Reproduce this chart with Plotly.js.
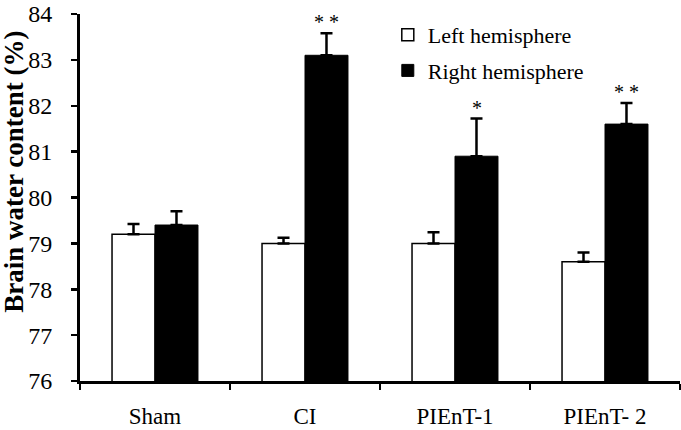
<!DOCTYPE html>
<html>
<head>
<meta charset="utf-8">
<script src="https://cdn.plot.ly/plotly-3.0.1.min.js"></script>
<style>
  html, body { margin: 0; padding: 0; background: #fff; }
  #chart { width: 681px; height: 430px; }
</style>
</head>
<body>
<div id="chart"></div>
<script>
// Brain water content, left vs right hemisphere, per group

const groups = ['Sham', 'CI', 'PIEnT-1', 'PIEnT- 2'];

const leftMean = [79.2, 79.0, 79.0, 78.6];
const leftErr = [0.22, 0.12, 0.24, 0.2];

const rightMean = [79.4, 83.1, 80.9, 81.6];
const rightErr = [0.3, 0.48, 0.82, 0.46];

// significance marks over the right hemisphere bars
const rightMarks = ['', '* *', '*', '* *'];

const serif = 'Liberation Serif, Times New Roman, serif';

const data = [
    {
        name: 'Left hemisphere',
        legendgroup: 'left',
        type: 'bar',
        x: groups,
        y: leftMean,
        marker: { color: '#ffffff', line: { color: '#000000', width: 1.5 } },
        error_y: {
            type: 'data',
            symmetric: false,
            array: leftErr,
            arrayminus: leftErr.map(() => 0),
            color: '#000000',
            thickness: 2.5,
            width: 6
        },
        hoverinfo: 'x+y'
    },
    {
        name: 'Right hemisphere',
        legendgroup: 'right',
        type: 'bar',
        x: groups,
        y: rightMean,
        marker: { color: '#000000', line: { color: '#000000', width: 1 } },
        error_y: {
            type: 'data',
            symmetric: false,
            array: rightErr,
            arrayminus: rightErr.map(() => 0),
            color: '#000000',
            thickness: 2.5,
            width: 6
        },
        hoverinfo: 'x+y'
    }
];

const annotations = rightMarks
    .map((mark, i) => ({
        x: groups[i],
        y: rightMean[i] + rightErr[i],
        xref: 'x',
        yref: 'y',
        text: mark,
        showarrow: false,
        xshift: 21.5,
        xanchor: 'center',
        yanchor: 'bottom',
        yshift: -2,
        font: { family: serif, size: 20, color: '#000' }
    }))
    .filter((a) => a.text !== '');

annotations.push({
    text: '<b>Brain water content (%)</b>',
    xref: 'paper',
    yref: 'paper',
    x: 0,
    y: 0.57,
    xanchor: 'center',
    yanchor: 'middle',
    xshift: -66,
    textangle: -90,
    showarrow: false,
    font: { family: serif, size: 27, color: '#000' }
});

const layout = {
    width: 681,
    height: 430,
    margin: { l: 80, r: 1, t: 14, b: 49 },
    paper_bgcolor: '#ffffff',
    plot_bgcolor: '#ffffff',
    barmode: 'group',
    bargap: 0.427,
    bargroupgap: 0,
    showlegend: true,
    legend: {
        x: 0.513,
        y: 1.0,
        xanchor: 'left',
        yanchor: 'top',
        bgcolor: 'rgba(0,0,0,0)',
        tracegroupgap: 4,
        font: { family: serif, size: 22, color: '#000' }
    },
    xaxis: {
        type: 'category',
        range: [-0.5, 3.5],
        showline: true,
        linecolor: '#000',
        linewidth: 3,
        ticks: 'outside',
        tickson: 'boundaries',
        ticklen: 6,
        tickwidth: 2.5,
        tickcolor: '#000',
        ticklabelstandoff: 12,
        showgrid: false,
        zeroline: false,
        tickfont: { family: serif, size: 23, color: '#000' }
    },
    yaxis: {
        range: [76, 84],
        dtick: 1,
        tick0: 76,
        showline: true,
        linecolor: '#000',
        linewidth: 3,
        ticks: 'outside',
        ticklen: 6,
        tickwidth: 2.5,
        tickcolor: '#000',
        ticklabelstandoff: 14,
        ticklabeloverflow: 'allow',
        showgrid: false,
        zeroline: false,
        tickfont: { family: serif, size: 24, color: '#000' }
    },
    annotations: annotations
};

const config = { displayModeBar: false, staticPlot: true };

Plotly.newPlot('chart', data, layout, config);
</script>
</body>
</html>
